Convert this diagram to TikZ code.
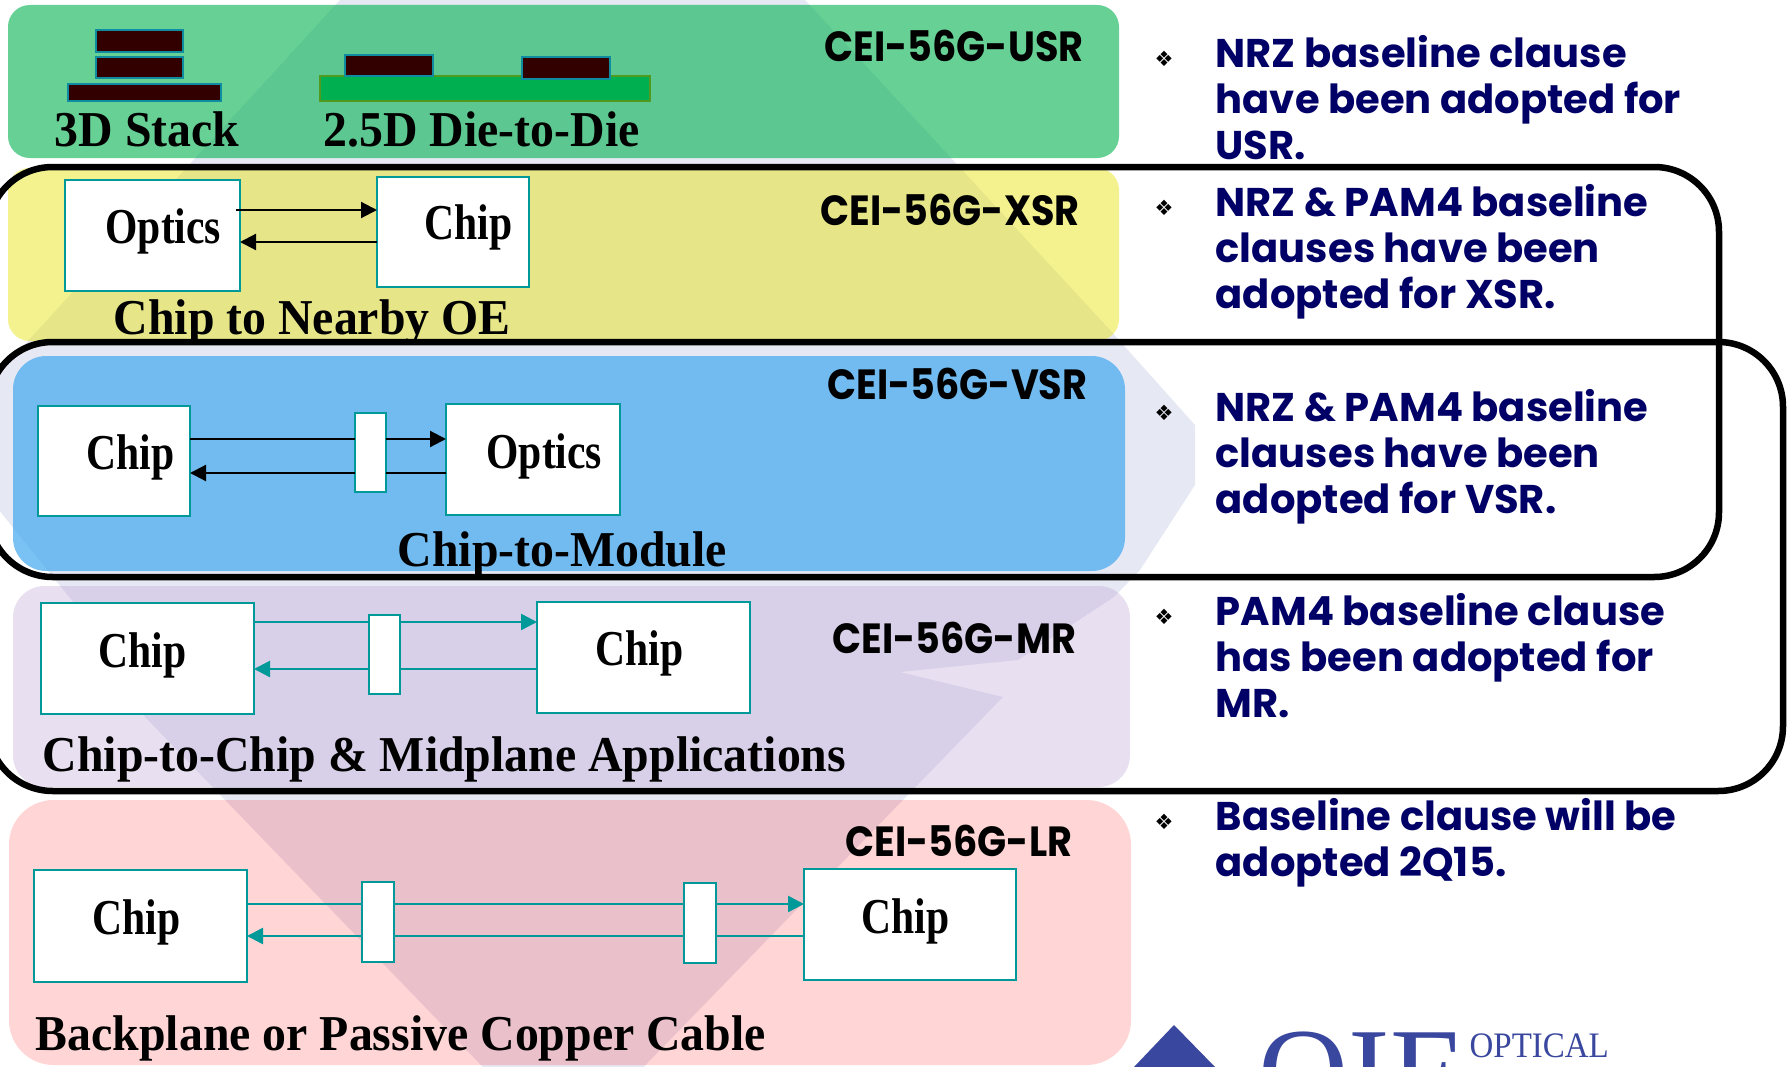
\documentclass[tikz,border=0pt]{standalone}
\usepackage{fontspec}
\setmainfont{Liberation Serif}
\newfontfamily\gothicfont{Poppins}
\newfontfamily\bulletfont{DejaVu Sans}
\usepackage{xcolor}
\usetikzlibrary{arrows.meta}
\definecolor{markgray}{RGB}{230,232,244}
\definecolor{tealline}{RGB}{0,153,153}
\definecolor{navytext}{RGB}{0,0,102}
\definecolor{diefill}{RGB}{51,0,0}
\definecolor{dieline}{RGB}{15,140,160}
\definecolor{substratefill}{RGB}{0,176,80}
\definecolor{substrateline}{RGB}{79,154,31}
\definecolor{greenpanel}{RGB}{0,177,78}
\definecolor{yellowpanel}{RGB}{231,229,31}
\definecolor{bluepanel}{RGB}{65,168,239}
\definecolor{purplepanel}{RGB}{190,165,212}
\definecolor{logoblue}{RGB}{58,71,159}
\tikzset{
  panel/.style={fill opacity=#1},
  chipbox/.style={draw=tealline, fill=white, line width=0.25mm, inner sep=0pt, outer sep=0pt},
  diebox/.style={draw=dieline, fill=diefill, line width=0.25mm, inner sep=0pt, outer sep=0pt},
  frame/.style={draw=black, line width=0.65mm},
  blackwire/.style={draw=black, line width=0.22mm},
  tealwire/.style={draw=tealline, line width=0.25mm},
  tipped/.style={-{Triangle[length=1.6mm, width=1.6mm]}},
  boxtext/.style={font=\fontsize{13.6pt}{16pt}\selectfont\bfseries, inner sep=0pt, anchor=base west, yscale=1.05},
  chiptext/.style={boxtext, xscale=0.87},
  standard/.style={font=\gothicfont\fontsize{12pt}{14pt}\selectfont\bfseries, inner sep=0pt, anchor=base west, xscale=0.905},
  clause/.style={font=\gothicfont\fontsize{11.4pt}{4.6mm}\selectfont\bfseries, text=navytext, align=left, inner sep=0pt, anchor=north west},
  bullet/.style={font=\bulletfont\fontsize{6pt}{7pt}\selectfont, inner sep=0pt}
}
\begin{document}
\begin{tikzpicture}[x=0.1mm, y=-0.1mm]
    \useasboundingbox (0,0) rectangle (1787,1067);
    \clip (0,0) rectangle (1787,1067);

    \fill[markgray] (340,0) -- (805,0) -- (1110,330) -- (1195,425) -- (1195,485) -- (1140,570)
      -- (1114,597) -- (1018,660) -- (900,672) -- (1003,697)
      -- (563,1150) -- (145,717) -- (120,660) -- (-60,437) -- cycle;

    \fill[greenpanel, panel=0.6, rounded corners=6.2pt] (8,5) rectangle (1119,158);
    \fill[yellowpanel, panel=0.5, rounded corners=6.2pt] (8,168) rectangle (1119,341);
    \fill[bluepanel, panel=0.7, rounded corners=9.5pt] (13,356) rectangle (1125,571);
    \fill[purplepanel, panel=0.35, rounded corners=9pt] (13,586) rectangle (1130,787);
    \fill[red, panel=0.165, rounded corners=12.7pt] (9,800) rectangle (1131,1065);

    \begin{scope}
      \node[diebox, minimum width=8.7mm, minimum height=2.2mm] (stacktop) at (139.5,41) {};
      \node[diebox, minimum width=8.7mm, minimum height=2.1mm] (stackmid) at (139.5,67.5) {};
      \node[diebox, minimum width=15.3mm, minimum height=1.7mm] (stackbase) at (144.5,92.5) {};
      \node[boxtext] (stacktext) at (54,146) {3D Stack};
      \node[draw=substrateline, fill=substratefill, line width=0.25mm, inner sep=0pt, minimum width=33mm, minimum height=2.5mm] (substrate) at (485,88.5) {};
      \node[diebox, minimum width=8.8mm, minimum height=2.1mm] (dieleft) at (389,65.5) {};
      \node[diebox, minimum width=8.8mm, minimum height=2.2mm] (dieright) at (566,68) {};
      \node[boxtext] (dietext) at (323,146) {2.5D Die-to-Die};
      \node[standard] (usr) at (824,62) {CEI-56G-USR};
    \end{scope}

    \begin{scope}
      \node[chipbox, minimum width=17.5mm, minimum height=11.1mm] (xsroptics) at (152.5,235.5) {};
      \node[chipbox, minimum width=15.2mm, minimum height=11mm] (xsrchip) at (453,232) {};
      \node[chiptext] at (105,243) {Optics};
      \node[chiptext] at (424,239) {Chip};
      \draw[blackwire, tipped] ([xshift=-1.1pt]xsroptics.east |- 0,210) -- (xsrchip.west |- 0,210);
      \draw[blackwire, tipped] (xsrchip.west |- 0,242) -- (xsroptics.east |- 0,242);
      \node[boxtext] (xsrtext) at (113,334) {Chip to Nearby OE};
      \node[standard] (xsr) at (820,225) {CEI-56G-XSR};
    \end{scope}

    \begin{scope}
      \node[chipbox, minimum width=15.2mm, minimum height=11mm] (vsrchip) at (114,461) {};
      \node[chipbox, minimum width=17.4mm, minimum height=11.1mm] (vsroptics) at (533,459.5) {};
      \node[chipbox, minimum width=3.1mm, minimum height=7.9mm] (vsrconn) at (370.5,452.5) {};
      \node[chiptext] at (86,469) {Chip};
      \node[chiptext] at (486,468) {Optics};
      \draw[blackwire] (vsrchip.east |- 0,439) -- (vsrconn.west |- 0,439);
      \draw[blackwire, tipped] (vsrconn.east |- 0,439) -- (vsroptics.west |- 0,439);
      \draw[blackwire] (vsroptics.west |- 0,473) -- (vsrconn.east |- 0,473);
      \draw[blackwire, tipped] (vsrconn.west |- 0,473) -- (vsrchip.east |- 0,473);
      \node[boxtext] (vsrtext) at (397,566) {Chip-to-Module};
      \node[standard] (vsr) at (827,399) {CEI-56G-VSR};
    \end{scope}

    \begin{scope}
      \node[chipbox, minimum width=21.3mm, minimum height=11.1mm] (mrleft) at (147.5,658.5) {};
      \node[chipbox, minimum width=21.3mm, minimum height=11.1mm] (mrright) at (643.5,657.5) {};
      \node[chipbox, minimum width=3.1mm, minimum height=7.9mm] (mrconn) at (384.5,654.5) {};
      \node[chiptext] at (98,667) {Chip};
      \node[chiptext] at (595,665) {Chip};
      \draw[tealwire] (mrleft.east |- 0,622) -- (mrconn.west |- 0,622);
      \draw[tealwire, tipped] (mrconn.east |- 0,622) -- (mrright.west |- 0,622);
      \draw[tealwire] (mrright.west |- 0,669) -- (mrconn.east |- 0,669);
      \draw[tealwire, tipped] (mrconn.west |- 0,669) -- (mrleft.east |- 0,669);
      \node[boxtext] (mrtext) at (42,771) {Chip-to-Chip \& Midplane Applications};
      \node[standard] (mr) at (832,653) {CEI-56G-MR};
    \end{scope}

    \begin{scope}
      \node[chipbox, minimum width=21.3mm, minimum height=11.2mm] (lrleft) at (140.5,926) {};
      \node[chipbox, minimum width=21.2mm, minimum height=11.1mm] (lrright) at (910,924.5) {};
      \node[chipbox, minimum width=3.2mm, minimum height=8mm] (lrconna) at (378,922) {};
      \node[chipbox, minimum width=3.2mm, minimum height=8mm] (lrconnb) at (700,923) {};
      \node[chiptext] at (92,934) {Chip};
      \node[chiptext] at (861,933) {Chip};
      \draw[tealwire] (lrleft.east |- 0,904) -- (lrconna.west |- 0,904);
      \draw[tealwire] (lrconna.east |- 0,904) -- (lrconnb.west |- 0,904);
      \draw[tealwire, tipped] (lrconnb.east |- 0,904) -- (lrright.west |- 0,904);
      \draw[tealwire] (lrright.west |- 0,936) -- (lrconnb.east |- 0,936);
      \draw[tealwire] (lrconnb.west |- 0,936) -- (lrconna.east |- 0,936);
      \draw[tealwire, tipped] (lrconna.west |- 0,936) -- (lrleft.east |- 0,936);
      \node[boxtext] (lrtext) at (35,1050) {Backplane or Passive Copper Cable};
      \node[standard] (lr) at (845,856) {CEI-56G-LR};
    \end{scope}

    \draw[frame, rounded corners=18.4pt] (-12,167) rectangle (1719,577);
    \draw[frame, rounded corners=18.4pt] (-12,342) rectangle (1783,791);

    \node[bullet] (marka) at (1164,59) {❖};
    \node[bullet] (markb) at (1164,208) {❖};
    \node[bullet] (markc) at (1164,413) {❖};
    \node[bullet] (markd) at (1164,617) {❖};
    \node[bullet] (marke) at (1164,822) {❖};

    \node[clause] (usrclause) at (1215,35) {NRZ baseline clause\\have been adopted for\\USR.};
    \node[clause] (xsrclause) at (1215,184) {NRZ \& PAM4 baseline\\clauses have been\\adopted for XSR.};
    \node[clause] (vsrclause) at (1215,389) {NRZ \& PAM4 baseline\\clauses have been\\adopted for VSR.};
    \node[clause] (mrclause) at (1215,593) {PAM4 baseline clause\\has been adopted for\\MR.};
    \node[clause] (lrclause) at (1215,798) {Baseline clause will be\\adopted 2Q15.};

    \fill[logoblue] (1174,1025) -- (1215,1067) -- (1134,1067) -- cycle;
    \node[text=logoblue, font=\fontsize{35.5pt}{38pt}\selectfont, inner sep=0pt, anchor=base west] (logoname) at (1258,1114) {OIF};
    \node[text=logoblue, font=\fontsize{10.2pt}{12pt}\selectfont, inner sep=0pt, anchor=base west, xscale=0.92] (logooptical) at (1469,1057) {OPTICAL};
  \end{tikzpicture}
\end{document}
